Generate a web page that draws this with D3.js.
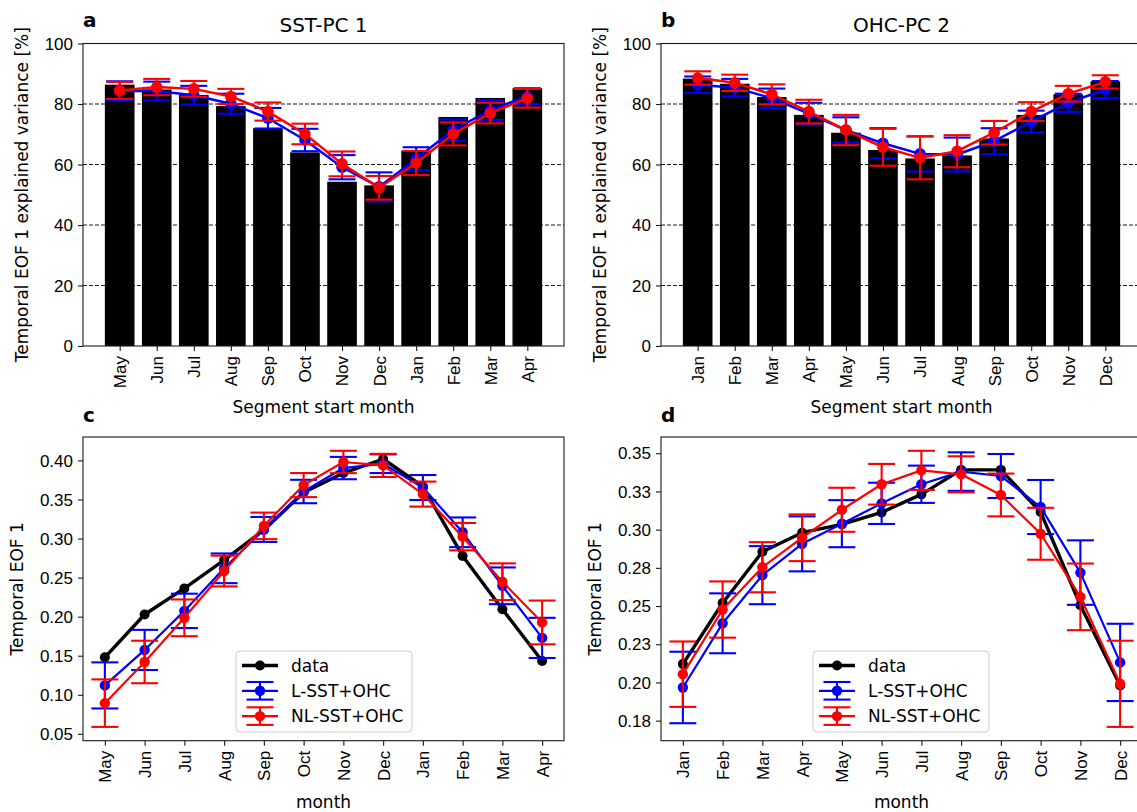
<!DOCTYPE html>
<html>
<head>
<meta charset="utf-8">
<script src="https://cdn.jsdelivr.net/npm/d3@7"></script>
<style>
  html, body { margin: 0; padding: 0; background: #fff; }
  svg { display: block; font-family: "DejaVu Sans", sans-serif; }
</style>
</head>
<body>
<svg id="fig" width="1137" height="812"></svg>
<script>
// Month labels for each segment ordering
const monthsSST = ["May","Jun","Jul","Aug","Sep","Oct","Nov","Dec","Jan","Feb","Mar","Apr"];
const monthsOHC = ["Jan","Feb","Mar","Apr","May","Jun","Jul","Aug","Sep","Oct","Nov","Dec"];

// Panel a: SST-PC 1 explained variance [%]
const sstData    = [86.4, 84.8, 83.0, 79.3, 72.0, 64.0, 54.3, 53.1, 64.6, 75.7, 82.0, 85.2];
const sstLin     = [84.3, 84.3, 82.9, 80.1, 75.3, 68.1, 59.1, 52.6, 61.9, 71.4, 78.0, 82.6];
const sstLinErr  = [3.2, 3.1, 3.1, 3.3, 3.4, 3.7, 4.0, 4.8, 3.8, 3.5, 3.3, 2.6];
const sstNl      = [84.5, 85.6, 85.0, 82.5, 77.5, 70.1, 60.2, 52.3, 60.5, 70.1, 77.0, 81.9];
const sstNlErr   = [2.8, 2.7, 2.6, 2.5, 3.0, 3.4, 4.1, 3.9, 4.0, 3.8, 3.4, 3.1];

// Panel b: OHC-PC 2 explained variance [%]
const ohcData    = [88.4, 86.7, 82.3, 76.4, 70.5, 64.8, 62.0, 63.0, 68.6, 76.4, 83.2, 87.5];
const ohcLin     = [86.4, 85.4, 81.9, 76.8, 71.4, 67.0, 63.5, 63.3, 67.7, 74.2, 80.4, 84.8];
const ohcLinErr  = [2.7, 2.9, 3.2, 3.6, 4.2, 5.0, 5.8, 5.6, 4.3, 3.6, 3.0, 2.8];
const ohcNl      = [88.6, 87.0, 83.2, 77.5, 71.4, 65.7, 62.2, 64.4, 70.5, 77.5, 83.4, 87.3];
const ohcNlErr   = [2.2, 2.7, 3.3, 3.9, 5.0, 6.1, 7.1, 5.3, 3.9, 3.1, 2.6, 2.2];

// Panel c: temporal EOF 1 for SST-PC 1
const eofSstData   = [0.148, 0.2028, 0.2362, 0.2725, 0.311, 0.359, 0.3838, 0.4018, 0.3666, 0.2777, 0.2096, 0.1433];
const eofSstLin    = [0.112, 0.1574, 0.2074, 0.2619, 0.3116, 0.3602, 0.3902, 0.3958, 0.3653, 0.308, 0.2395, 0.1728];
const eofSstLinErr = [0.0295, 0.0257, 0.022, 0.019, 0.016, 0.015, 0.0143, 0.012, 0.016, 0.019, 0.0235, 0.0257];
const eofSstNl     = [0.0893, 0.142, 0.1985, 0.2584, 0.3162, 0.3684, 0.398, 0.3936, 0.3569, 0.3024, 0.2447, 0.1926];
const eofSstNlErr  = [0.0304, 0.0272, 0.0235, 0.0197, 0.017, 0.0154, 0.0143, 0.0148, 0.016, 0.0175, 0.0235, 0.028];

// Panel d: temporal EOF 1 for OHC-PC 2
const eofOhcData   = [0.212, 0.252, 0.2855, 0.298, 0.3034, 0.3113, 0.3231, 0.3391, 0.3391, 0.3115, 0.2505, 0.198];
const eofOhcLin    = [0.1967, 0.2387, 0.2702, 0.2907, 0.3039, 0.3172, 0.3297, 0.338, 0.3351, 0.3148, 0.2719, 0.2131];
const eofOhcLinErr = [0.0234, 0.0196, 0.019, 0.018, 0.0154, 0.0135, 0.0122, 0.0126, 0.0144, 0.0177, 0.0211, 0.0253];
const eofOhcNl     = [0.2054, 0.2477, 0.2754, 0.2947, 0.313, 0.3297, 0.3388, 0.3362, 0.3227, 0.2973, 0.256, 0.1991];
const eofOhcNlErr  = [0.0214, 0.0184, 0.0164, 0.0153, 0.0144, 0.0133, 0.0128, 0.0118, 0.014, 0.017, 0.0218, 0.0282];

// Tick values and labels
const pctTicks = [0, 20, 40, 60, 80, 100];
const eofSstTicks = [0.05, 0.10, 0.15, 0.20, 0.25, 0.30, 0.35, 0.40];
const eofSstTickLabels = ["0.05","0.10","0.15","0.20","0.25","0.30","0.35","0.40"];
const eofOhcTicks = [0.175, 0.20, 0.225, 0.25, 0.275, 0.30, 0.325, 0.35];
const eofOhcTickLabels = ["0.18","0.20","0.23","0.25","0.28","0.30","0.33","0.35"];

const seriesNames = ["data", "L-SST+OHC", "NL-SST+OHC"];

const FS = 17;        // tick / label / legend font size
const TITLE_FS = 20;
const CAP = 13.5;     // half-width of error-bar caps
const svg = d3.select("#fig");

function frame(g, L, T, R, B) {
  g.append("rect").attr("x", L).attr("y", T).attr("width", R - L).attr("height", B - T)
    .attr("fill", "none").attr("stroke", "#1a1a1a").attr("stroke-width", 1.1);
}

function styleAxis(ax) {
  ax.select(".domain").remove();
  ax.selectAll(".tick line").attr("stroke", "#1a1a1a").attr("stroke-width", 1.1);
  ax.selectAll(".tick text").attr("fill", "#000").style("font-size", FS + "px");
}

function yAxis(g, y, L, ticks, labels) {
  const ax = g.append("g").attr("transform", `translate(${L},0)`)
    .call(d3.axisLeft(y).tickValues(ticks).tickSize(5).tickPadding(5)
      .tickFormat((d, i) => labels ? labels[i] : d3.format("d")(d)));
  styleAxis(ax);
  ax.selectAll(".tick text").attr("dy", "0.33em");
}

function xAxis(g, x, B, cats) {
  const ax = g.append("g").attr("transform", `translate(0,${B})`)
    .call(d3.axisBottom(x).tickValues(d3.range(cats.length)).tickSize(5)
      .tickFormat(i => cats[i]));
  styleAxis(ax);
  ax.selectAll(".tick text")
    .attr("transform", "rotate(-90)")
    .attr("x", -10).attr("y", 0).attr("dy", "0.35em")
    .attr("text-anchor", "end");
}

function errSeries(g, x, y, vals, errs, color, lw, r) {
  const s = g.append("g");
  vals.forEach((v, i) => {
    const cx = x(i), y0 = y(v - errs[i]), y1 = y(v + errs[i]);
    s.append("line").attr("x1", cx).attr("x2", cx).attr("y1", y0).attr("y2", y1)
      .attr("stroke", color).attr("stroke-width", 2.1);
    [y0, y1].forEach(yy => s.append("line").attr("x1", cx - CAP).attr("x2", cx + CAP)
      .attr("y1", yy).attr("y2", yy).attr("stroke", color).attr("stroke-width", 2.1));
  });
  lineSeries(s, x, y, vals, color, lw, r);
}

function lineSeries(g, x, y, vals, color, lw, r) {
  const line = d3.line().x((d, i) => x(i)).y(d => y(d));
  g.append("path").datum(vals).attr("d", line).attr("fill", "none")
    .attr("stroke", color).attr("stroke-width", lw).attr("stroke-linejoin", "round");
  g.selectAll(null).data(vals).enter().append("circle")
    .attr("cx", (d, i) => x(i)).attr("cy", d => y(d)).attr("r", r).attr("fill", color);
}

function yLabel(g, text, xb, T, B) {
  g.append("text").attr("transform", `translate(${xb},${(T + B) / 2}) rotate(-90)`)
    .attr("text-anchor", "middle").style("font-size", FS + "px").text(text);
}

function letter(g, t, x, y) {
  g.append("text").attr("x", x).attr("y", y).style("font-size", TITLE_FS + "px")
    .style("font-weight", "bold").text(t);
}

function barPanel(o) {
  const g = svg.append("g");
  const x = d3.scaleLinear().domain([-0.99, 11.99]).range([o.L, o.R]);
  const y = d3.scaleLinear().domain([0, 100]).range([o.B, o.T]);
  // bars
  g.selectAll(null).data(o.bars).enter().append("rect")
    .attr("x", (d, i) => x(i - 0.4)).attr("width", x(0.8) - x(0))
    .attr("y", d => y(d)).attr("height", d => y(0) - y(d)).attr("fill", "#000");
  // dashed horizontal grid
  g.selectAll(null).data(pctTicks.filter(t => t > 0 && t < 100)).enter().append("line")
    .attr("x1", o.L).attr("x2", o.R).attr("y1", d => y(d)).attr("y2", d => y(d))
    .attr("stroke", "#000").attr("stroke-width", 0.9).attr("stroke-dasharray", "4,2");
  errSeries(g, x, y, o.lin, o.linErr, "#0000ff", 2.5, 5.8);
  errSeries(g, x, y, o.nl, o.nlErr, "#ff0000", 2.5, 5.8);
  frame(g, o.L, o.T, o.R, o.B);
  yAxis(g, y, o.L, pctTicks);
  xAxis(g, x, o.B, o.cats);
  yLabel(g, "Temporal EOF 1 explained variance [%]", o.ylx, o.T, o.B);
  g.append("text").attr("x", (o.L + o.R) / 2).attr("y", 413).attr("text-anchor", "middle")
    .style("font-size", FS + "px").text("Segment start month");
  g.append("text").attr("x", (o.L + o.R) / 2).attr("y", 32).attr("text-anchor", "middle")
    .style("font-size", TITLE_FS + "px").text(o.title);
  letter(g, o.letter, o.L, 27);
}

function paddedExtent(arrs) {
  let lo = Infinity, hi = -Infinity;
  arrs.forEach(([v, e]) => v.forEach((d, i) => {
    lo = Math.min(lo, d - (e ? e[i] : 0));
    hi = Math.max(hi, d + (e ? e[i] : 0));
  }));
  const pad = (hi - lo) * 0.05;
  return [lo - pad, hi + pad];
}

function legend(g, lx, ly) {
  const w = 176, h = 81;
  g.append("rect").attr("x", lx).attr("y", ly).attr("width", w).attr("height", h)
    .attr("rx", 4).attr("fill", "#fff").attr("fill-opacity", 0.8)
    .attr("stroke", "#cccccc").attr("stroke-width", 1);
  const colors = ["#000", "#0000ff", "#ff0000"];
  const hx0 = lx + 6, hx1 = lx + 42, hc = (hx0 + hx1) / 2;
  seriesNames.forEach((name, i) => {
    const ry = ly + 14.5 + i * 25.3;
    const c = colors[i];
    if (i > 0) {
      g.append("line").attr("x1", hc).attr("x2", hc).attr("y1", ry - 8.8).attr("y2", ry + 8.8)
        .attr("stroke", c).attr("stroke-width", 2.1);
      [ry - 8.8, ry + 8.8].forEach(yy => g.append("line").attr("x1", hc - CAP).attr("x2", hc + CAP)
        .attr("y1", yy).attr("y2", yy).attr("stroke", c).attr("stroke-width", 2.1));
    }
    g.append("line").attr("x1", hx0).attr("x2", hx1).attr("y1", ry).attr("y2", ry)
      .attr("stroke", c).attr("stroke-width", i === 0 ? 3.4 : 2.2);
    g.append("circle").attr("cx", hc).attr("cy", ry).attr("r", i === 0 ? 5 : 5.2).attr("fill", c);
    g.append("text").attr("x", lx + 55).attr("y", ry).attr("dy", "0.36em")
      .style("font-size", FS + "px").text(name);
  });
}

function linePanel(o) {
  const g = svg.append("g");
  const x = d3.scaleLinear().domain([-0.55, 11.55]).range([o.L, o.R]);
  const y = d3.scaleLinear()
    .domain(paddedExtent([[o.data], [o.lin, o.linErr], [o.nl, o.nlErr]]))
    .range([o.B, o.T]);
  const plot = g.append("g");
  lineSeries(plot, x, y, o.data, "#000", 3.4, 5);
  errSeries(plot, x, y, o.lin, o.linErr, "#0000ff", 2.2, 5.2);
  errSeries(plot, x, y, o.nl, o.nlErr, "#ff0000", 2.2, 5.2);
  frame(g, o.L, o.T, o.R, o.B);
  yAxis(g, y, o.L, o.ticks, o.tickLabels);
  xAxis(g, x, o.B, o.cats);
  yLabel(g, "Temporal EOF 1", o.ylx, o.T, o.B);
  g.append("text").attr("x", (o.L + o.R) / 2).attr("y", 808).attr("text-anchor", "middle")
    .style("font-size", FS + "px").text("month");
  legend(g, o.legX, 651);
  letter(g, o.letter, o.L, 422);
}

barPanel({ L: 83, R: 564, T: 43.5, B: 346, cats: monthsSST, bars: sstData,
  lin: sstLin, linErr: sstLinErr, nl: sstNl, nlErr: sstNlErr,
  title: "SST-PC 1", letter: "a", ylx: 28 });
barPanel({ L: 661, R: 1142, T: 43.5, B: 346, cats: monthsOHC, bars: ohcData,
  lin: ohcLin, linErr: ohcLinErr, nl: ohcNl, nlErr: ohcNlErr,
  title: "OHC-PC 2", letter: "b", ylx: 606 });
linePanel({ L: 83, R: 564, T: 437, B: 740.7, cats: monthsSST,
  data: eofSstData, lin: eofSstLin, linErr: eofSstLinErr, nl: eofSstNl, nlErr: eofSstNlErr,
  ticks: eofSstTicks, tickLabels: eofSstTickLabels, letter: "c", ylx: 23, legX: 236 });
linePanel({ L: 661, R: 1142, T: 437, B: 740.7, cats: monthsOHC,
  data: eofOhcData, lin: eofOhcLin, linErr: eofOhcLinErr, nl: eofOhcNl, nlErr: eofOhcNlErr,
  ticks: eofOhcTicks, tickLabels: eofOhcTickLabels, letter: "d", ylx: 601, legX: 813 });
</script>
</body>
</html>
